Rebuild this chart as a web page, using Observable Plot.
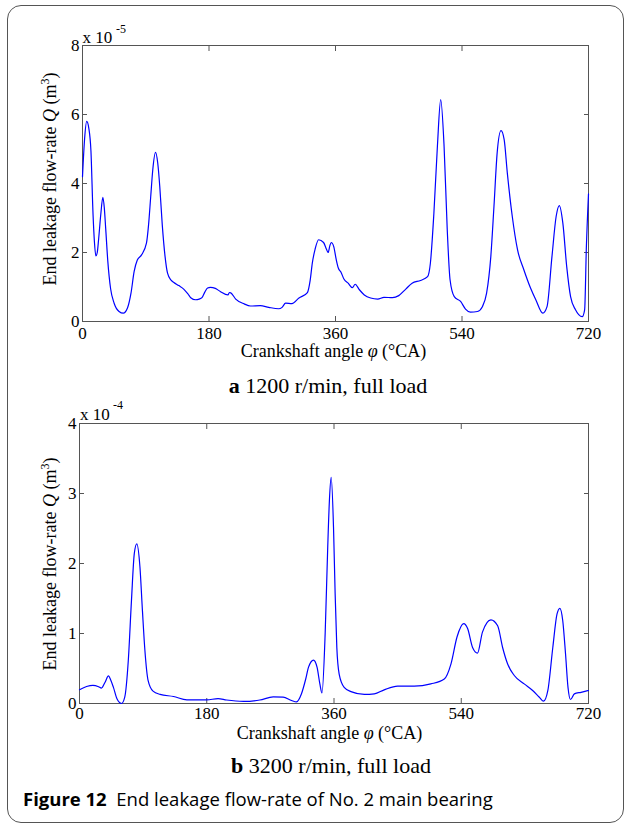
<!DOCTYPE html>
<html>
<head>
<meta charset="utf-8">
<script src="https://cdn.jsdelivr.net/npm/d3@7"></script>
<script src="https://cdn.jsdelivr.net/npm/@observablehq/plot@0.6"></script>
<style>
  html, body { margin: 0; padding: 0; background: #fff; }
  #page { position: relative; width: 626px; height: 824px; overflow: hidden; font-family: "Liberation Serif", "Times New Roman", serif; color: #000; }
  #page svg text { font-family: "Liberation Serif", "Times New Roman", serif; }
  #border { position: absolute; left: 7px; top: 5px; width: 617px; height: 818px; border: 1.5px solid #555; border-radius: 14px; box-sizing: border-box; }
  .chart { position: absolute; left: 0; }
  .t { position: absolute; line-height: 1; white-space: nowrap; }
  .ctr { text-align: center; }
  .ytitle { position: absolute; width: 300px; height: 18px; line-height: 18px; font-size: 18px; text-align: center; white-space: nowrap; transform: rotate(-90deg); }
  .cap { font-family: "Open Sans", sans-serif; font-size: 18.5px; }
</style>
</head>
<body>
<div id="page">
  <div id="border"></div>
  <div id="c1" class="chart" style="top:0px"></div>
  <div id="c2" class="chart" style="top:380px"></div>

  <!-- panel a texts -->
  <div class="t" style="left:82.5px;top:29px;font-size:17px">x 10</div>
  <div class="t" style="left:116px;top:23px;font-size:12px">-5</div>
  <div class="ytitle" style="left:-100px;top:170px">End leakage flow-rate <i>Q</i> (m<sup style="font-size:12px;line-height:0">3</sup>)</div>
  <div class="t ctr" style="left:133.5px;width:400px;top:342px;font-size:18px">Crankshaft angle <i>φ</i> (°CA)</div>
  <div class="t ctr" style="left:128px;width:400px;top:374.6px;font-size:22px"><b>a</b> 1200 r/min, full load</div>

  <!-- panel b texts -->
  <div class="t" style="left:80px;top:405.8px;font-size:17px">x 10</div>
  <div class="t" style="left:113px;top:399px;font-size:12px">-4</div>
  <div class="ytitle" style="left:-100px;top:555px">End leakage flow-rate <i>Q</i> (m<sup style="font-size:12px;line-height:0">3</sup>)</div>
  <div class="t ctr" style="left:129.5px;width:400px;top:723.5px;font-size:18px">Crankshaft angle <i>φ</i> (°CA)</div>
  <div class="t ctr" style="left:131px;width:400px;top:754.6px;font-size:22px"><b>b</b> 3200 r/min, full load</div>

  <div class="t cap" style="left:23px;top:790.2px"><b>Figure 12</b>&nbsp; End leakage flow-rate of No. 2 main bearing</div>
</div>
<script>
// Crankshaft angle (°CA) and end leakage flow-rate, panel a (1200 r/min), in units of 1e-5 m^3
const angleA = [0, 3, 6, 9, 12, 15, 17, 19, 21, 23, 26, 29, 31, 33, 36, 40, 45, 52, 58, 64, 69, 73.5, 78, 84, 91, 94, 97, 100, 104, 107, 110, 113.5, 117.5, 121, 126, 130, 137, 144, 150, 154, 161, 166, 170, 174, 178, 182, 189, 196, 207, 209, 211, 218, 230, 239, 253, 265, 279, 284, 289, 298, 308, 320, 324, 327, 331, 336, 343, 347, 349.5, 352, 354, 357.5, 361, 364, 368, 372, 378, 384, 388, 394, 401, 410, 420, 429, 441, 450, 460, 469, 481, 491, 495, 500, 505, 509.7, 514.5, 519, 523, 529, 538, 545, 552, 562, 569, 575, 581, 585.5, 590, 595.5, 600, 604.5, 611.5, 619, 628, 637.5, 645, 655, 661, 668, 674, 678.5, 683.5, 689, 694.5, 701.5, 711, 714.5, 717, 720];
const flowA = [4.2, 5.3, 5.8, 5.6, 4.95, 3.1, 2.3, 1.9, 2.0, 2.4, 3.1, 3.6, 3.3, 2.7, 1.75, 0.95, 0.53, 0.29, 0.24, 0.39, 0.82, 1.45, 1.78, 1.93, 2.27, 2.8, 3.6, 4.4, 4.9, 4.6, 3.9, 2.8, 1.88, 1.40, 1.2, 1.13, 1.04, 0.94, 0.8, 0.69, 0.63, 0.65, 0.69, 0.85, 0.97, 0.99, 0.96, 0.87, 0.77, 0.84, 0.83, 0.65, 0.51, 0.45, 0.46, 0.41, 0.37, 0.41, 0.53, 0.52, 0.68, 0.84, 1.2, 1.69, 2.1, 2.37, 2.29, 2.1, 2.0, 2.2, 2.29, 2.17, 1.8, 1.55, 1.42, 1.23, 1.11, 0.98, 1.08, 0.92, 0.77, 0.68, 0.65, 0.70, 0.69, 0.75, 0.94, 1.11, 1.19, 1.30, 1.69, 3.14, 5.08, 6.43, 5.08, 2.66, 1.21, 0.72, 0.58, 0.36, 0.27, 0.29, 0.43, 0.82, 1.88, 3.34, 4.88, 5.53, 5.27, 4.30, 3.05, 2.08, 1.50, 0.97, 0.63, 0.24, 0.43, 1.88, 3.05, 3.36, 2.85, 1.59, 0.72, 0.34, 0.14, 0.34, 2.17, 3.7];

// Panel b (3200 r/min), in units of 1e-4 m^3
const angleB = [0, 10, 19, 27, 31, 36, 41, 44, 48, 53, 59.5, 64, 69, 73.5, 77.5, 81, 85.5, 89, 92.5, 97, 104, 114, 133, 152, 180, 196, 208, 232, 255, 274, 288, 300, 307, 314, 320, 324, 331, 336, 340, 343, 347.5, 351, 353.5, 356, 359.3, 361.6, 364, 367.3, 374.4, 384, 403, 417, 431, 450, 473.5, 497, 516, 525.5, 534, 543.5, 549, 556, 563, 570, 582, 591.5, 598.5, 605.5, 615, 629, 641, 650.5, 656.5, 662.5, 669.5, 675.5, 679.5, 683.5, 687.5, 691, 694.5, 700, 709.5, 720];
const flowB = [0.196, 0.243, 0.26, 0.24, 0.22, 0.30, 0.395, 0.34, 0.23, 0.067, 0.0, 0.09, 0.61, 1.47, 2.14, 2.28, 1.95, 1.33, 0.76, 0.33, 0.176, 0.13, 0.10, 0.052, 0.052, 0.07, 0.05, 0.03, 0.05, 0.094, 0.09, 0.043, 0.024, 0.14, 0.35, 0.52, 0.62, 0.52, 0.28, 0.15, 1.0, 2.19, 2.9, 3.23, 2.52, 1.57, 0.80, 0.42, 0.23, 0.17, 0.13, 0.138, 0.195, 0.248, 0.248, 0.28, 0.35, 0.567, 0.95, 1.14, 1.07, 0.80, 0.72, 1.02, 1.195, 1.11, 0.80, 0.567, 0.40, 0.28, 0.186, 0.09, 0.033, 0.186, 0.80, 1.28, 1.36, 1.19, 0.71, 0.23, 0.057, 0.138, 0.16, 0.186];

const xTicks = [0, 180, 360, 540, 720];
const yTicksA = [0, 2, 4, 6, 8];
const yTicksB = [0, 1, 2, 3, 4];

function chart(angles, flows, yTicks, o) {
  const data = angles.map((a, i) => ({a, q: flows[i]}));
  const axisColor = "#555";
  const fmt = d => String(d);
  return Plot.plot({
    width: 626,
    height: o.height,
    marginTop: o.mt, marginBottom: o.mb, marginLeft: o.ml, marginRight: o.mr,
    style: {fontFamily: "Liberation Serif", fontSize: "17px", color: "#000", background: "transparent", overflow: "visible"},
    x: {domain: [0, 720]},
    y: {domain: [yTicks[0], yTicks[yTicks.length - 1]]},
    marks: [
      Plot.frame({stroke: axisColor, strokeWidth: 1}),
      Plot.axisX(xTicks, {anchor: "bottom", tickSize: -5, tickPadding: o.xpad, tickFormat: fmt, stroke: axisColor, label: null}),
      Plot.axisX(xTicks, {anchor: "top", tickSize: -5, tickFormat: () => "", stroke: axisColor, label: null}),
      Plot.axisY(yTicks, {anchor: "left", tickSize: -5, tickPadding: 8, tickFormat: fmt, stroke: axisColor, label: null}),
      Plot.axisY(yTicks, {anchor: "right", tickSize: -5, tickFormat: () => "", stroke: axisColor, label: null}),
      Plot.line(data, {x: "a", y: "q", stroke: "#0000ff", strokeWidth: 1.2, curve: "monotone-x"})
    ]
  });
}

document.getElementById("c1").append(chart(angleA, flowA, yTicksA, {height: 365, mt: 45, mb: 44, ml: 82, mr: 38, xpad: 10}));
document.getElementById("c2").append(chart(angleB, flowB, yTicksB, {height: 360, mt: 43, mb: 37, ml: 79, mr: 38, xpad: 8}));
</script>
</body>
</html>
